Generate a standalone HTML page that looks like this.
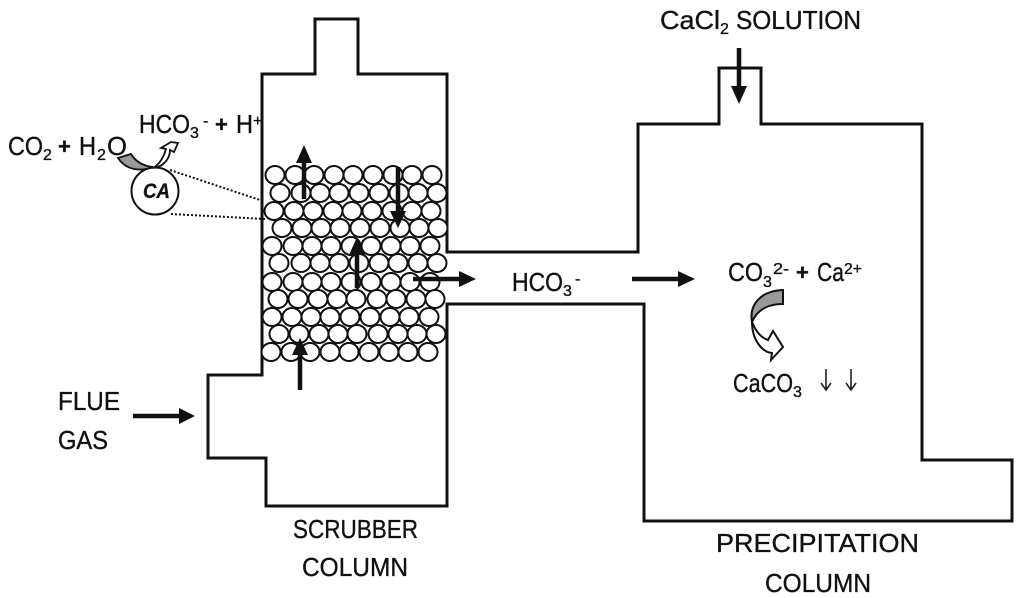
<!DOCTYPE html>
<html>
<head>
<meta charset="utf-8">
<style>
html,body{margin:0;padding:0;background:#fff;width:1024px;height:598px;overflow:hidden}
svg{display:block;filter:blur(.35px)}
text{font-family:"Liberation Sans",sans-serif;font-size:26px;fill:#111;stroke:#111;stroke-width:.35px}
.s{font-size:16px}
.p{font-size:22px;font-weight:bold}
</style>
</head>
<body>
<svg width="1024" height="598" viewBox="0 0 1024 598" xmlns="http://www.w3.org/2000/svg">
<rect width="1024" height="598" fill="#fff"/>

<!-- vessel outline -->
<path d="M315 19H358V74H447V252H638V124H719V68H761V124H922V460H1012V521H644V304H447V506H266V458H208V375H262V74H315Z" fill="none" stroke="#111" stroke-width="3"/>

<!-- packing -->
<g fill="#fff" stroke="#111" stroke-width="2">
<ellipse cx="275" cy="175" rx="9.5" ry="9"/><ellipse cx="295" cy="175" rx="9.5" ry="9"/><ellipse cx="314" cy="175" rx="9.5" ry="9"/><ellipse cx="334" cy="175" rx="9.5" ry="9"/><ellipse cx="353" cy="175" rx="9.5" ry="9"/><ellipse cx="373" cy="175" rx="9.5" ry="9"/><ellipse cx="393" cy="175" rx="9.5" ry="9"/><ellipse cx="412" cy="175" rx="9.5" ry="9"/><ellipse cx="432" cy="175" rx="9.5" ry="9"/>
<ellipse cx="280" cy="193" rx="9.5" ry="9"/><ellipse cx="301" cy="193" rx="9.5" ry="9"/><ellipse cx="320" cy="193" rx="9.5" ry="9"/><ellipse cx="339" cy="193" rx="9.5" ry="9"/><ellipse cx="359" cy="193" rx="9.5" ry="9"/><ellipse cx="379" cy="193" rx="9.5" ry="9"/><ellipse cx="399" cy="193" rx="9.5" ry="9"/><ellipse cx="418" cy="193" rx="9.5" ry="9"/><ellipse cx="437" cy="193" rx="9.5" ry="9"/>
<ellipse cx="274" cy="211" rx="9.5" ry="9"/><ellipse cx="294" cy="211" rx="9.5" ry="9"/><ellipse cx="313" cy="211" rx="9.5" ry="9"/><ellipse cx="333" cy="211" rx="9.5" ry="9"/><ellipse cx="352" cy="211" rx="9.5" ry="9"/><ellipse cx="372" cy="211" rx="9.5" ry="9"/><ellipse cx="392" cy="211" rx="9.5" ry="9"/><ellipse cx="412" cy="211" rx="9.5" ry="9"/><ellipse cx="431" cy="211" rx="9.5" ry="9"/>
<ellipse cx="282" cy="228" rx="9.5" ry="9"/><ellipse cx="302" cy="228" rx="9.5" ry="9"/><ellipse cx="321" cy="228" rx="9.5" ry="9"/><ellipse cx="340" cy="228" rx="9.5" ry="9"/><ellipse cx="360" cy="228" rx="9.5" ry="9"/><ellipse cx="380" cy="228" rx="9.5" ry="9"/><ellipse cx="400" cy="228" rx="9.5" ry="9"/><ellipse cx="419" cy="228" rx="9.5" ry="9"/><ellipse cx="438" cy="228" rx="9.5" ry="9"/>
<ellipse cx="272" cy="246" rx="9.5" ry="9"/><ellipse cx="293" cy="246" rx="9.5" ry="9"/><ellipse cx="312" cy="246" rx="9.5" ry="9"/><ellipse cx="331" cy="246" rx="9.5" ry="9"/><ellipse cx="351" cy="246" rx="9.5" ry="9"/><ellipse cx="371" cy="246" rx="9.5" ry="9"/><ellipse cx="391" cy="246" rx="9.5" ry="9"/><ellipse cx="410" cy="246" rx="9.5" ry="9"/><ellipse cx="430" cy="246" rx="9.5" ry="9"/>
<ellipse cx="279" cy="263" rx="9.5" ry="9"/><ellipse cx="301" cy="263" rx="9.5" ry="9"/><ellipse cx="320" cy="263" rx="9.5" ry="9"/><ellipse cx="339" cy="263" rx="9.5" ry="9"/><ellipse cx="359" cy="263" rx="9.5" ry="9"/><ellipse cx="379" cy="263" rx="9.5" ry="9"/><ellipse cx="398" cy="263" rx="9.5" ry="9"/><ellipse cx="418" cy="263" rx="9.5" ry="9"/><ellipse cx="437" cy="263" rx="9.5" ry="9"/>
<ellipse cx="272" cy="282" rx="9.5" ry="9"/><ellipse cx="293" cy="282" rx="9.5" ry="9"/><ellipse cx="312" cy="282" rx="9.5" ry="9"/><ellipse cx="331" cy="282" rx="9.5" ry="9"/><ellipse cx="351" cy="282" rx="9.5" ry="9"/><ellipse cx="371" cy="282" rx="9.5" ry="9"/><ellipse cx="391" cy="282" rx="9.5" ry="9"/><ellipse cx="410" cy="282" rx="9.5" ry="9"/><ellipse cx="430" cy="282" rx="9.5" ry="9"/>
<ellipse cx="278" cy="299" rx="9.5" ry="9"/><ellipse cx="298" cy="299" rx="9.5" ry="9"/><ellipse cx="318" cy="299" rx="9.5" ry="9"/><ellipse cx="337" cy="299" rx="9.5" ry="9"/><ellipse cx="356" cy="299" rx="9.5" ry="9"/><ellipse cx="377" cy="299" rx="9.5" ry="9"/><ellipse cx="396" cy="299" rx="9.5" ry="9"/><ellipse cx="416" cy="299" rx="9.5" ry="9"/><ellipse cx="435" cy="299" rx="9.5" ry="9"/>
<ellipse cx="272" cy="317" rx="9.5" ry="9"/><ellipse cx="292" cy="317" rx="9.5" ry="9"/><ellipse cx="311" cy="317" rx="9.5" ry="9"/><ellipse cx="330" cy="317" rx="9.5" ry="9"/><ellipse cx="350" cy="317" rx="9.5" ry="9"/><ellipse cx="370" cy="317" rx="9.5" ry="9"/><ellipse cx="390" cy="317" rx="9.5" ry="9"/><ellipse cx="409" cy="317" rx="9.5" ry="9"/><ellipse cx="429" cy="317" rx="9.5" ry="9"/>
<ellipse cx="279" cy="334" rx="9.5" ry="9"/><ellipse cx="299" cy="334" rx="9.5" ry="9"/><ellipse cx="319" cy="334" rx="9.5" ry="9"/><ellipse cx="338" cy="334" rx="9.5" ry="9"/><ellipse cx="357" cy="334" rx="9.5" ry="9"/><ellipse cx="378" cy="334" rx="9.5" ry="9"/><ellipse cx="398" cy="334" rx="9.5" ry="9"/><ellipse cx="417" cy="334" rx="9.5" ry="9"/><ellipse cx="436" cy="334" rx="9.5" ry="9"/>
<ellipse cx="271" cy="352" rx="9.5" ry="9"/><ellipse cx="291" cy="352" rx="9.5" ry="9"/><ellipse cx="310" cy="352" rx="9.5" ry="9"/><ellipse cx="330" cy="352" rx="9.5" ry="9"/><ellipse cx="349" cy="352" rx="9.5" ry="9"/><ellipse cx="369" cy="352" rx="9.5" ry="9"/><ellipse cx="389" cy="352" rx="9.5" ry="9"/><ellipse cx="408" cy="352" rx="9.5" ry="9"/><ellipse cx="428" cy="352" rx="9.5" ry="9"/>
</g>

<!-- thick arrows -->
<g fill="#111" stroke="#111">
<path d="M304 199V160" stroke-width="4.5"/><path d="M296 163H312L304 145Z" stroke="none"/>
<path d="M398 167V214" stroke-width="4.5"/><path d="M390 211H406L398 228Z" stroke="none"/>
<path d="M357 288V252" stroke-width="4.5"/><path d="M349 255H365L357 237Z" stroke="none"/>
<path d="M413 279H462" stroke-width="4.5"/><path d="M459 271V287L476 279Z" stroke="none"/>
<path d="M300 390V352" stroke-width="4.5"/><path d="M292 355H308L300 338Z" stroke="none"/>
<path d="M739 48V89" stroke-width="4.5"/><path d="M731 86H747L739 104Z" stroke="none"/>
<path d="M133 416H182" stroke-width="4.5"/><path d="M179 408V424L195 416Z" stroke="none"/>
<path d="M632 279H681" stroke-width="4.5"/><path d="M678 271V287L695 279Z" stroke="none"/>
</g>

<!-- enzyme inset -->
<circle cx="155" cy="191" r="23.5" fill="#fff" stroke="#111" stroke-width="2"/>
<path d="M170 170L263 201M171 214L265 219" fill="none" stroke="#111" stroke-width="2" stroke-dasharray="2 2"/>
<path d="M153 168C160 164 164 156 166 149L161 148L171 142L178 143L174 152L170 150C170 158 164 167 153 168Z" fill="#fff" stroke="#111" stroke-width="1.8"/>
<path d="M118 158L131 154C136 162 143 166 153 167C140 172 126 170 118 158Z" fill="#999" stroke="#111" stroke-width="1.8"/>

<!-- big curved arrow -->
<path d="M752 322C756 332 762 338 768 340L773 331L783 347L771 360L772 353C762 352 752 340 752 322Z" fill="#fff" stroke="#111" stroke-width="2"/>
<path d="M783 290V304C768 304 757 310 752 322C749 305 760 291 783 290Z" fill="#999" stroke="#111" stroke-width="2"/>

<!-- labels -->
<text x="660" y="29" textLength="60" lengthAdjust="spacingAndGlyphs">CaCl</text>
<text x="720" y="34" class="s">2</text>
<text x="736" y="29" textLength="125" lengthAdjust="spacingAndGlyphs">SOLUTION</text>

<text x="8" y="155" textLength="35" lengthAdjust="spacingAndGlyphs">CO</text>
<text x="43" y="160" class="s">2</text>
<text x="58" y="154" class="p">+</text>
<text x="79" y="155" textLength="17" lengthAdjust="spacingAndGlyphs">H</text>
<text x="97" y="160" class="s">2</text>
<text x="107" y="155" textLength="20" lengthAdjust="spacingAndGlyphs">O</text>

<text x="139" y="133" textLength="51" lengthAdjust="spacingAndGlyphs">HCO</text>
<text x="190" y="138" class="s">3</text>
<text x="203" y="126" class="s">-</text>
<text x="215" y="132" class="p">+</text>
<text x="236" y="133" textLength="17" lengthAdjust="spacingAndGlyphs">H</text>
<text x="253" y="126" class="s">+</text>

<text x="143" y="198" style="font-size:21px;font-style:italic;font-weight:bold" textLength="27" lengthAdjust="spacingAndGlyphs">CA</text>

<text x="58" y="410" textLength="62" lengthAdjust="spacingAndGlyphs">FLUE</text>
<text x="58" y="449" textLength="50" lengthAdjust="spacingAndGlyphs">GAS</text>
<text x="293" y="538" textLength="125" lengthAdjust="spacingAndGlyphs">SCRUBBER</text>
<text x="302" y="576" textLength="106" lengthAdjust="spacingAndGlyphs">COLUMN</text>
<text x="716" y="552" textLength="203" lengthAdjust="spacingAndGlyphs">PRECIPITATION</text>
<text x="765" y="592" textLength="106" lengthAdjust="spacingAndGlyphs">COLUMN</text>

<text x="512" y="291" textLength="51" lengthAdjust="spacingAndGlyphs">HCO</text>
<text x="563" y="296" class="s">3</text>
<text x="575" y="284" class="s">-</text>

<text x="728" y="281" textLength="35" lengthAdjust="spacingAndGlyphs">CO</text>
<text x="763" y="287" class="s">3</text>
<text x="773" y="274" class="s" textLength="16" lengthAdjust="spacingAndGlyphs">2-</text>
<text x="796" y="280" class="p">+</text>
<text x="817" y="281" textLength="27" lengthAdjust="spacingAndGlyphs">Ca</text>
<text x="844" y="274" class="s" textLength="18" lengthAdjust="spacingAndGlyphs">2+</text>

<text x="733" y="392" textLength="60" lengthAdjust="spacingAndGlyphs">CaCO</text>
<text x="793" y="397" class="s">3</text>

<!-- thin precipitate arrows -->
<g fill="none" stroke="#222" stroke-width="1.6">
<path d="M826 369V390M821 383L826 390L831 383"/>
<path d="M851 369V390M846 383L851 390L856 383"/>
</g>
</svg>
</body>
</html>
